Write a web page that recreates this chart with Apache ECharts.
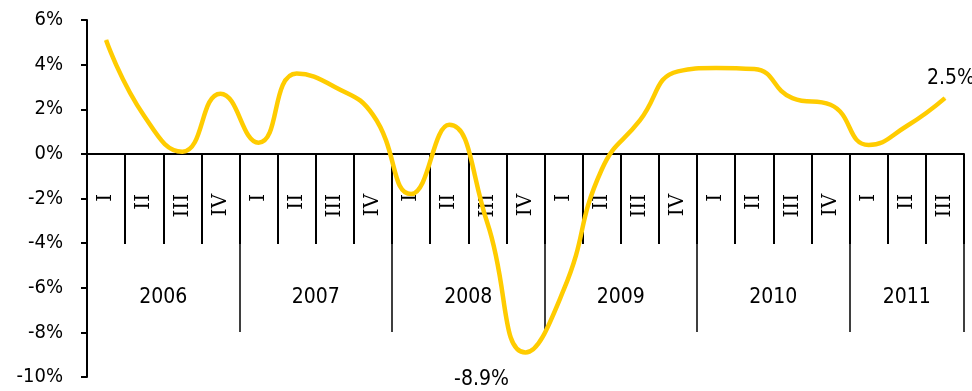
<!DOCTYPE html>
<html><head><meta charset="utf-8">
<script src="https://cdn.jsdelivr.net/npm/echarts@6/dist/echarts.min.js"></script>
<style>html,body{margin:0;padding:0;background:#fff}#c{width:972px;height:391px}</style>
</head><body><div id="c"></div>
<script>
const years = ['2006', '2007', '2008', '2009', '2010', '2011'];
const quartersPerYear = [4, 4, 4, 4, 4, 3];
const quarterNames = ['I', 'II', 'III', 'IV'];
const growth = [5.1, 1.7, 0.1, 2.7, 0.5, 3.6, 3.0, 1.75, -1.8, 1.3, -3.1, -8.9, -6.1, -0.7, 1.5, 3.7, 3.85, 3.8, 2.5, 2.2, 0.4, 1.25, 2.5];
const labelledPoints = [11, 22];
const yMin = -10, yMax = 6, yStep = 2;

const quarterCats = [];
years.forEach((y, yi) => { for (let q = 0; q < quartersPerYear[yi]; q++) quarterCats.push(quarterNames[q]); });

const yearTickIdx = new Set();
const yearLabelIdx = {};
let pos = 0;
years.forEach((y, yi) => {
  const n = quartersPerYear[yi] * 2;
  yearTickIdx.add(pos);
  yearLabelIdx[pos + n / 2] = y;
  pos += n;
});
yearTickIdx.add(pos);
const halfCats = [];
for (let i = 0; i <= pos; i++) halfCats.push(yearLabelIdx[i] || '');

const narrow = '"DejaVu Sans Condensed", "Liberation Sans Narrow", sans-serif';

const H = 391, gridTop = 20, gridBottom = 14;
const plotH = H - gridTop - gridBottom;
const zeroOffset = -plotH * (0 - yMin) / (yMax - yMin);

const seriesData = growth.map((v, i) => {
  if (i === labelledPoints[0]) return { value: v, label: { show: true, position: 'bottom', distance: 5, offset: [-44, 11] } };
  if (i === labelledPoints[1]) return { value: v, label: { show: true, position: 'top', distance: 5, offset: [6, -4] } };
  return v;
});

const chart = echarts.init(document.getElementById('c'));
chart.setOption({
  animation: false,
  backgroundColor: '#ffffff',
  grid: { left: 87, right: 8, top: gridTop, bottom: gridBottom, containLabel: false, outerBoundsMode: 'none' },
  xAxis: [
    {
      type: 'category', data: quarterCats, boundaryGap: true, position: 'bottom', offset: zeroOffset,
      axisLine: { show: true, onZero: false, lineStyle: { color: '#000', width: 2 } },
      axisTick: { show: true, interval: 0, length: 90, lineStyle: { color: '#000', width: 2 } },
      axisLabel: { interval: 0, rotate: 90, margin: 40, color: '#000', fontFamily: '"DejaVu Serif", serif', fontSize: 20 },
      splitLine: { show: false }
    },
    {
      type: 'category', data: halfCats, boundaryGap: false, position: 'bottom', offset: zeroOffset,
      axisLine: { show: false, onZero: false },
      axisTick: { show: true, length: 178, interval: (idx) => yearTickIdx.has(idx), lineStyle: { color: '#000', width: 1.5 } },
      axisLabel: { interval: (idx) => !!yearLabelIdx[idx], margin: 133, color: '#000', fontFamily: narrow, fontSize: 21 },
      splitLine: { show: false }
    }
  ],
  yAxis: {
    type: 'value', min: yMin, max: yMax, interval: yStep,
    axisLine: { show: true, lineStyle: { color: '#000', width: 2 } },
    axisTick: { show: true, length: 6, lineStyle: { color: '#000', width: 2 } },
    axisLabel: { formatter: '{value}%', margin: 24, color: '#000', fontFamily: narrow, fontSize: 20 },
    splitLine: { show: false }
  },
  series: [{
    type: 'line', xAxisIndex: 0, data: seriesData, smooth: true,
    showSymbol: true, symbol: 'circle', symbolSize: 1,
    itemStyle: { color: '#FFCC00' },
    lineStyle: { color: '#FFCC00', width: 4.5 },
    label: { show: false, formatter: (p) => p.value + '%', color: '#000', fontFamily: narrow, fontSize: 21 },
    z: 5
  }]
});
</script></body></html>
